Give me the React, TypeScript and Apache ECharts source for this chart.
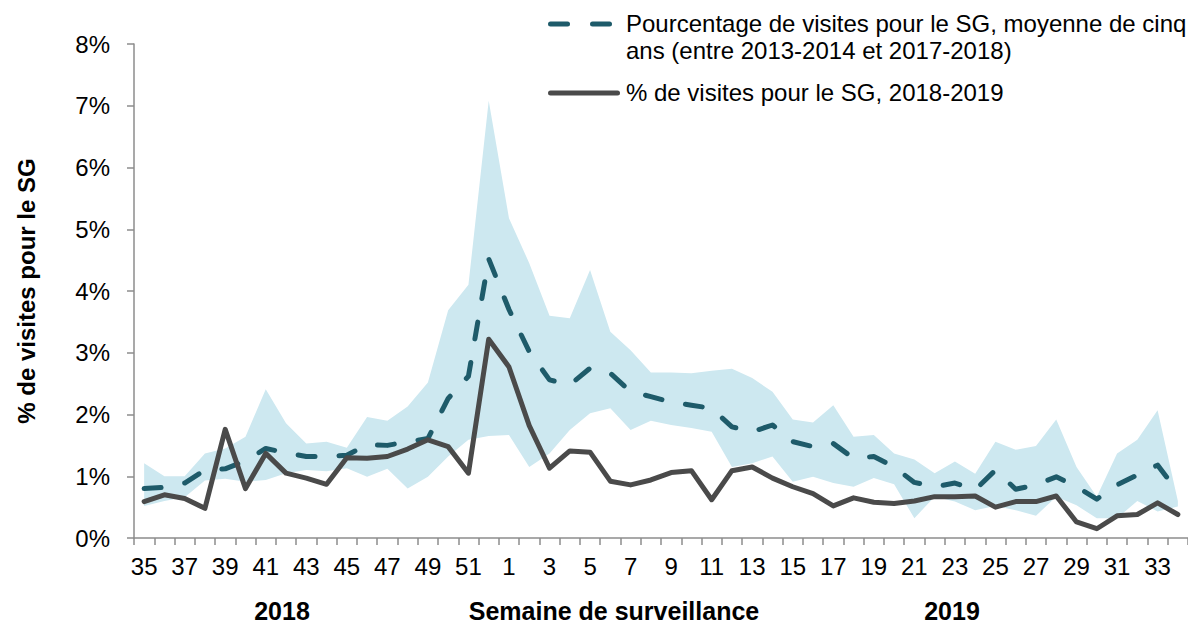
import React, { useEffect, useRef } from "react";
import * as echarts from "echarts";

const weeks: string[] = [
  "35", "36", "37", "38", "39", "40", "41", "42", "43", "44", "45", "46", "47", "48", "49", "50", "51", "52",
  "1", "2", "3", "4", "5", "6", "7", "8", "9", "10", "11", "12", "13", "14", "15", "16", "17",
  "18", "19", "20", "21", "22", "23", "24", "25", "26", "27", "28", "29", "30", "31", "32", "33", "34",
];

// % de visites pour le SG, 2018-2019
const current: number[] = [
  0.59, 0.70, 0.64, 0.48, 1.76, 0.80, 1.37, 1.05, 0.97, 0.87, 1.30, 1.29, 1.32, 1.44, 1.59, 1.48, 1.05, 3.22,
  2.77, 1.82, 1.13, 1.41, 1.39, 0.92, 0.86, 0.94, 1.06, 1.09, 0.62, 1.09, 1.15, 0.97, 0.83, 0.72, 0.52,
  0.65, 0.58, 0.56, 0.60, 0.67, 0.67, 0.68, 0.50, 0.59, 0.59, 0.68, 0.26, 0.15, 0.36, 0.38, 0.57, 0.38,
];

// Moyenne de cinq ans
const average: number[] = [
  0.80, 0.82, 0.89, 1.10, 1.12, 1.25, 1.45, 1.38, 1.32, 1.32, 1.34, 1.51, 1.50, 1.56, 1.61, 2.26, 2.62, 4.52,
  3.70, 3.02, 2.56, 2.48, 2.75, 2.67, 2.37, 2.29, 2.20, 2.15, 2.10, 1.80, 1.72, 1.83, 1.56, 1.48, 1.53,
  1.29, 1.32, 1.15, 0.90, 0.83, 0.89, 0.78, 1.10, 0.79, 0.86, 0.99, 0.83, 0.63, 0.86, 1.02, 1.18, 0.75,
];

// Plage (min / max) des cinq saisons
const rangeMax: number[] = [
  1.21, 1.00, 1.00, 1.37, 1.45, 1.64, 2.41, 1.86, 1.53, 1.56, 1.46, 1.96, 1.90, 2.13, 2.52, 3.69, 4.10, 7.08,
  5.18, 4.45, 3.60, 3.56, 4.34, 3.34, 3.04, 2.68, 2.68, 2.67, 2.71, 2.74, 2.59, 2.37, 1.92, 1.87, 2.15,
  1.64, 1.67, 1.37, 1.27, 1.05, 1.24, 1.04, 1.56, 1.43, 1.49, 1.92, 1.15, 0.67, 1.37, 1.59, 2.07, 0.60,
];

const rangeMin: number[] = [
  0.52, 0.60, 0.66, 0.93, 0.96, 0.91, 0.94, 1.05, 1.10, 1.08, 1.13, 0.99, 1.12, 0.80, 0.99, 1.32, 1.59, 1.65,
  1.67, 1.15, 1.37, 1.75, 2.02, 2.10, 1.75, 1.90, 1.83, 1.78, 1.72, 1.15, 1.21, 1.32, 0.91, 0.99, 0.89,
  0.83, 0.97, 0.87, 0.32, 0.67, 0.59, 0.45, 0.52, 0.45, 0.36, 0.67, 0.53, 0.32, 0.32, 0.60, 0.43, 0.51,
];

const legendAvg1 = "Pourcentage de visites pour le SG, moyenne de cinq";
const legendAvg2 = "ans (entre 2013-2014 et 2017-2018)";
const legendCur = "% de visites pour le SG, 2018-2019";
const yTitle = "% de visites pour le SG";
const xTitle = "Semaine de surveillance";
const year1 = "2018";
const year2 = "2019";

const FONT = "'Liberation Sans', Arial, sans-serif";
const AVG_COLOR = "#1e5b6a";
const CUR_COLOR = "#4a4a4a";
const BAND_COLOR = "#cde8f0";
const AXIS_COLOR = "#8c8c8c";

export default function App() {
  const ref = useRef<HTMLDivElement>(null);

  useEffect(() => {
    if (!ref.current) return;
    const chart = echarts.init(ref.current, undefined, { renderer: "svg" });
    const bandDiff = rangeMax.map((v, i) => +(v - rangeMin[i]).toFixed(3));

    chart.setOption({
      animation: false,
      textStyle: { fontFamily: FONT },
      grid: { left: 134, right: 0, top: 44, bottom: 89, containLabel: false },
      xAxis: {
        type: "category",
        data: weeks,
        boundaryGap: true,
        axisLine: { lineStyle: { color: AXIS_COLOR, width: 1.5 } },
        axisTick: { show: true, interval: 0, length: 7, lineStyle: { color: AXIS_COLOR, width: 1.5 } },
        axisLabel: { interval: 1, fontSize: 24, color: "#000", margin: 16, fontFamily: FONT },
        splitLine: { show: false },
      },
      yAxis: {
        type: "value",
        min: 0,
        max: 8,
        interval: 1,
        name: yTitle,
        nameLocation: "middle",
        nameGap: 96,
        nameTextStyle: { fontSize: 24, fontWeight: "bold", color: "#000", fontFamily: FONT },
        axisLine: { show: true, lineStyle: { color: AXIS_COLOR, width: 1.5 } },
        axisTick: { show: true, length: 7, lineStyle: { color: AXIS_COLOR, width: 1.5 } },
        axisLabel: { formatter: "{value}%", fontSize: 24, color: "#000", margin: 24, fontFamily: FONT },
        splitLine: { show: false },
      },
      series: [
        {
          name: "min",
          type: "line",
          data: rangeMin,
          stack: "band",
          symbol: "none",
          silent: true,
          lineStyle: { opacity: 0 },
          z: 1,
        },
        {
          name: "plage",
          type: "line",
          data: bandDiff,
          stack: "band",
          symbol: "none",
          silent: true,
          lineStyle: { opacity: 0 },
          areaStyle: { color: BAND_COLOR, opacity: 1 },
          z: 1,
        },
        {
          name: legendAvg1 + " " + legendAvg2,
          type: "line",
          data: average,
          symbol: "none",
          lineStyle: { color: AVG_COLOR, width: 5, type: [17, 24], cap: "round", join: "round" },
          z: 3,
        },
        {
          name: legendCur,
          type: "line",
          data: current,
          symbol: "none",
          lineStyle: { color: CUR_COLOR, width: 5, cap: "round", join: "round" },
          z: 4,
        },
      ],
      graphic: [
        {
          type: "line",
          shape: { x1: 550.5, y1: 24, x2: 567.5, y2: 24 },
          style: { stroke: AVG_COLOR, lineWidth: 5, lineCap: "round" },
        },
        {
          type: "line",
          shape: { x1: 592.5, y1: 24, x2: 609.5, y2: 24 },
          style: { stroke: AVG_COLOR, lineWidth: 5, lineCap: "round" },
        },
        {
          type: "text",
          x: 626,
          y: 23,
          style: { text: legendAvg1, font: `24px ${FONT}`, fill: "#000", verticalAlign: "middle" },
        },
        {
          type: "text",
          x: 626,
          y: 50,
          style: { text: legendAvg2, font: `24px ${FONT}`, fill: "#000", verticalAlign: "middle" },
        },
        {
          type: "line",
          shape: { x1: 550.5, y1: 93, x2: 617.5, y2: 93 },
          style: { stroke: CUR_COLOR, lineWidth: 5, lineCap: "round" },
        },
        {
          type: "text",
          x: 626,
          y: 92,
          style: { text: legendCur, font: `24px ${FONT}`, fill: "#000", verticalAlign: "middle" },
        },
        {
          type: "text",
          x: 282,
          y: 611,
          style: { text: year1, font: `bold 25px ${FONT}`, fill: "#000", align: "center", verticalAlign: "middle" },
        },
        {
          type: "text",
          x: 614,
          y: 611,
          style: { text: xTitle, font: `bold 25px ${FONT}`, fill: "#000", align: "center", verticalAlign: "middle" },
        },
        {
          type: "text",
          x: 952,
          y: 611,
          style: { text: year2, font: `bold 25px ${FONT}`, fill: "#000", align: "center", verticalAlign: "middle" },
        },
      ],
    });

    return () => chart.dispose();
  }, []);

  return (
    <div
      ref={ref}
      style={{ position: "absolute", left: 0, top: 0, width: 1188, height: 627, background: "#fff" }}
    />
  );
}
